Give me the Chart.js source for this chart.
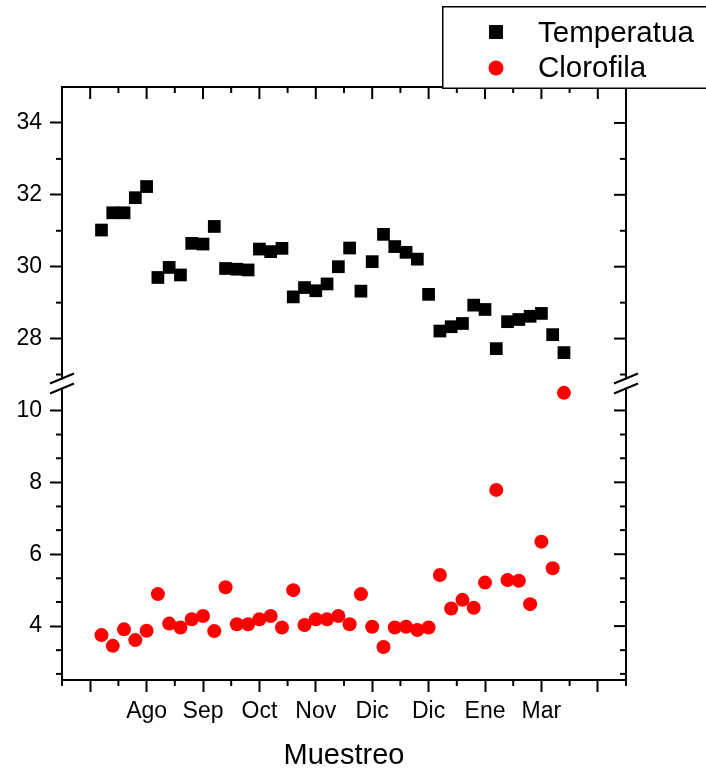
<!DOCTYPE html>
<html lang="es">
<head>
<meta charset="utf-8">
<title>Temperatura y Clorofila</title>
<script src="https://cdn.jsdelivr.net/npm/chart.js@4/dist/chart.umd.min.js"></script>
<style>
    html, body { margin: 0; padding: 0; background: #fff; }
    #contenedor { width: 706px; height: 773px; position: relative; }
</style>
</head>
<body>
<div id="contenedor"><canvas id="grafico"></canvas></div>
<script>
// Datos del muestreo
const muestras = [1, 2, 3, 4, 5, 6, 7, 8, 9, 10, 11, 12, 13, 14, 15, 16, 17, 18, 19, 20, 21,
    22, 23, 24, 25, 26, 27, 28, 29, 30, 31, 32, 33, 34, 35, 36, 37, 38, 39, 40, 41, 42];

const temperatura = [31.02, 31.5, 31.5, 31.92, 32.23, 29.70, 29.98, 29.77, 30.65, 30.63, 31.12,
    29.95, 29.93, 29.91, 30.49, 30.42, 30.51, 29.16, 29.42, 29.33, 29.52, 30.0, 30.52, 29.32,
    30.14, 30.90, 30.56, 30.40, 30.21, 29.23, 28.21, 28.33, 28.42, 28.93, 28.81, 27.72, 28.47,
    28.53, 28.62, 28.70, 28.11, 27.61];

const clorofila = [3.75, 3.45, 3.91, 3.61, 3.87, 4.89, 4.07, 3.96, 4.19, 4.28, 3.86, 5.08,
    4.05, 4.05, 4.19, 4.28, 3.96, 5.0, 4.03, 4.19, 4.19, 4.28, 4.05, 4.89, 3.98, 3.42, 3.96,
    3.98, 3.89, 3.96, 5.42, 4.49, 4.73, 4.51, 5.21, 7.79, 5.28, 5.26, 4.61, 6.35, 5.61, 10.49];

// Eje X: marcas principales y etiquetas de mes
const xMayores = [0, 5, 10, 15, 20, 25, 30, 35, 40, 45];
const xEtiquetas = ['', 'Ago', 'Sep', 'Oct', 'Nov', 'Dic', 'Dic', 'Ene', 'Mar', ''];
const xMenores = [-2.5, 2.5, 7.5, 12.5, 17.5, 22.5, 27.5, 32.5, 37.5, 42.5, 47.5];

// Eje Y partido: tramo superior (temperatura) e inferior (clorofila)
const yTempMayores = [28, 30, 32, 34];
const yTempMenores = [27, 29, 31, 33];
const yClorMayores = [4, 6, 8, 10];
const yClorMenores = [2.67, 3.33, 4.67, 5.33, 6.67, 7.33, 8.67, 9.33];

const FUENTE = "'Liberation Sans', Arial, sans-serif";

/**
 * Marco: ejes superior/derecho, marcas menores, corte del eje y leyenda
 */
const marcoPlugin = {
    id: 'marco',
    afterDraw(chart) {
        const { ctx, chartArea: a, scales } = chart;
        const x = scales.x, yT = scales.yTemp, yB = scales.yClor;
        const largo = 12, corto = 6;

        ctx.save();
        ctx.strokeStyle = '#000';
        ctx.lineWidth = 2;

        const linea = (x1, y1, x2, y2) => {
            ctx.beginPath();
            ctx.moveTo(x1, y1);
            ctx.lineTo(x2, y2);
            ctx.stroke();
        };

        // ejes superior y derecho
        linea(a.left - 1, a.top, a.right + 1, a.top);
        linea(a.right, a.top - 1, a.right, a.bottom + 1);

        // marcas del eje X
        xMayores.forEach(v => {
            const px = x.getPixelForValue(v);
            linea(px, a.top, px, a.top + largo);
        });
        xMenores.forEach(v => {
            const px = x.getPixelForValue(v);
            linea(px, a.top, px, a.top + corto);
            linea(px, a.bottom, px, a.bottom + corto);
        });

        // marcas de los ejes Y
        const marcasY = (escala, mayores, menores) => {
            mayores.forEach(v => {
                const py = escala.getPixelForValue(v);
                linea(a.right, py, a.right - largo, py);
            });
            menores.forEach(v => {
                const py = escala.getPixelForValue(v);
                linea(a.left, py, a.left - corto, py);
                linea(a.right, py, a.right - corto, py);
            });
        };
        marcasY(yT, yTempMayores, yTempMenores);
        marcasY(yB, yClorMayores, yClorMenores);

        // corte del eje
        const yc = (yT.bottom + yB.top) / 2;
        [a.left, a.right].forEach(xc => {
            ctx.fillStyle = '#fff';
            ctx.fillRect(xc - 3, yc - 4, 6, 9);
            linea(xc - 12, yc, xc + 12, yc - 10);
            linea(xc - 12, yc + 10, xc + 12, yc);
        });

        // leyenda
        ctx.fillStyle = '#fff';
        ctx.fillRect(442, 6, 300, 82);
        ctx.lineWidth = 1.5;
        ctx.strokeRect(442.75, 6.75, 300, 81.5);

        ctx.fillStyle = '#000';
        ctx.fillRect(489, 25, 14, 14);
        ctx.fillStyle = '#ff0000';
        ctx.beginPath();
        ctx.arc(496, 68, 7.5, 0, Math.PI * 2);
        ctx.fill();

        ctx.fillStyle = '#000';
        ctx.font = `29.5px ${FUENTE}`;
        ctx.textBaseline = 'alphabetic';
        ctx.textAlign = 'left';
        chart.data.datasets.forEach((ds, i) => {
            ctx.fillText(ds.label, 538, 42 + i * 35);
        });
        ctx.restore();
    },
};

/**
 * Ejes
 */
function ejeY(min, max, marcas) {
    return {
        type: 'linear',
        position: 'left',
        stack: 'izq',
        stackWeight: 1,
        min: min,
        max: max,
        afterBuildTicks: s => { s.ticks = marcas.map(v => ({ value: v })); },
        afterFit: s => { s.width = 62; },
        border: { display: true, color: '#000', width: 2 },
        grid: { drawOnChartArea: false, drawTicks: true, tickLength: 12, tickColor: '#000', tickWidth: 2 },
        ticks: { color: '#000', padding: 8, font: { family: FUENTE, size: 23 } },
    };
}

function initChart() {
    const ctx = document.getElementById('grafico').getContext('2d');

    new Chart(ctx, {
        type: 'scatter',
        data: {
            datasets: [{
                label: 'Temperatua',
                data: muestras.map((m, i) => ({ x: m, y: temperatura[i] })),
                yAxisID: 'yTemp',
                pointStyle: 'rect',
                pointRadius: 9,
                pointBorderWidth: 0,
                backgroundColor: '#000',
                borderColor: '#000',
                clip: false,
            }, {
                label: 'Clorofila',
                data: muestras.map((m, i) => ({ x: m, y: clorofila[i] })),
                yAxisID: 'yClor',
                pointStyle: 'circle',
                pointRadius: 7,
                pointBorderWidth: 0,
                backgroundColor: '#ff0000',
                borderColor: '#ff0000',
                clip: false,
            }],
        },
        options: {
            responsive: true,
            maintainAspectRatio: false,
            animation: false,
            layout: { padding: { top: 87, right: 80, left: 0, bottom: 0 } },
            plugins: {
                legend: { display: false },
                tooltip: { enabled: false },
            },
            scales: {
                x: {
                    type: 'linear',
                    position: 'bottom',
                    min: -2.5,
                    max: 47.5,
                    afterBuildTicks: s => { s.ticks = xMayores.map(v => ({ value: v })); },
                    afterFit: s => { s.height = 93; },
                    border: { display: true, color: '#000', width: 2 },
                    grid: { drawOnChartArea: false, tickLength: 12, tickColor: '#000', tickWidth: 2 },
                    ticks: {
                        color: '#000',
                        padding: 6,
                        maxRotation: 0,
                        autoSkip: false,
                        font: { family: FUENTE, size: 23 },
                        callback: (v, i) => xEtiquetas[i],
                    },
                    title: {
                        display: true,
                        text: 'Muestreo',
                        color: '#000',
                        padding: 0,
                        font: { family: FUENTE, size: 29 },
                    },
                },
                // el tramo inferior se declara primero para que quede abajo en la pila
                yClor: ejeY(2.5, 10.75, yClorMayores),
                yTemp: ejeY(26.75, 35, yTempMayores),
            },
        },
        plugins: [marcoPlugin],
    });
}

document.addEventListener('DOMContentLoaded', initChart);
</script>
</body>
</html>
